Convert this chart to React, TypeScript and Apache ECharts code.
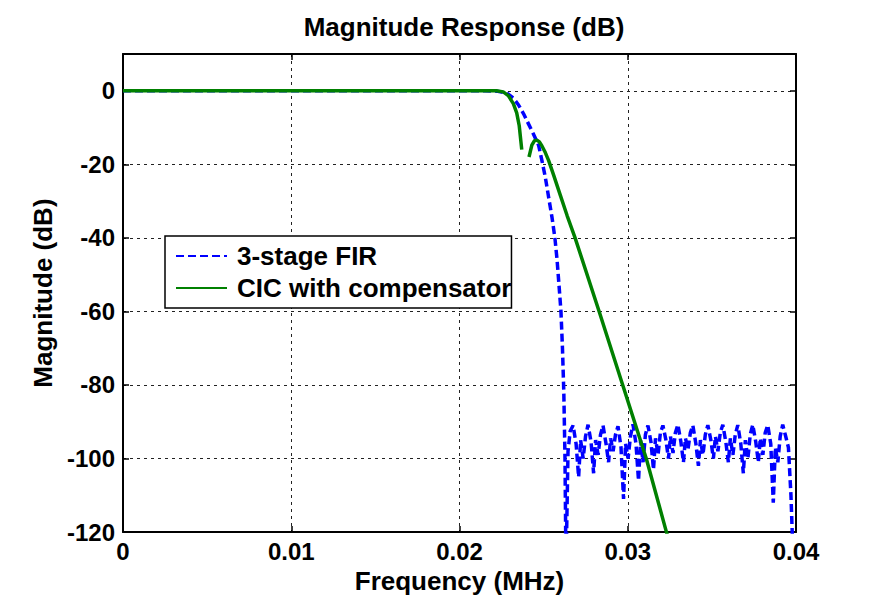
import React, { useEffect, useRef } from "react";
import * as echarts from "echarts";

// Frequency axis (MHz) and magnitude axis (dB)
const xTicks = [0, 0.01, 0.02, 0.03, 0.04];
const yTicks = [-120, -100, -80, -60, -40, -20, 0];

// 3-stage FIR response: passband, transition, then stopband lobes
const firFreq = [
  0, 0.0215, 0.0222, 0.0228, 0.0232, 0.0235, 0.0238, 0.0241, 0.0244, 0.0247,
  0.0249, 0.0251, 0.0253, 0.0255, 0.02567, 0.0258, 0.0259, 0.02603, 0.02612, 0.0262,
  0.02627, 0.02633, 0.02645, 0.02658,
  0.02675, 0.02693, 0.02708, 0.0272, 0.02735, 0.02749,
  0.02764, 0.02782, 0.02797, 0.02809, 0.02824, 0.02838,
  0.02853, 0.02871, 0.02886, 0.02898, 0.02913, 0.02927,
  0.02942, 0.0296, 0.02975, 0.02987, 0.03002, 0.03016,
  0.03031, 0.03049, 0.03064, 0.03076, 0.03091, 0.03105,
  0.0312, 0.03138, 0.03153, 0.03165, 0.0318, 0.03194,
  0.03209, 0.03227, 0.03242, 0.03254, 0.03269, 0.03283,
  0.03298, 0.03316, 0.03331, 0.03343, 0.03358, 0.03372,
  0.03387, 0.03405, 0.0342, 0.03432, 0.03447, 0.03461,
  0.03476, 0.03494, 0.03509, 0.03521, 0.03536, 0.0355,
  0.03565, 0.03583, 0.03598, 0.0361, 0.03625, 0.03639,
  0.03654, 0.03672, 0.03687, 0.03699, 0.03714, 0.03728,
  0.03743, 0.03761, 0.03776, 0.03788, 0.03803, 0.03817,
  0.03832, 0.0385, 0.03865, 0.03877, 0.03892, 0.03906,
  0.03921, 0.03939, 0.03955, 0.0397, 0.03985, 0.04,
];
const firMag = [
  0, 0, -0.1, -0.6, -2, -3.8, -6.2, -9, -11.8, -14.8,
  -19, -23.5, -29, -34.5, -40, -46, -52, -60, -70, -82,
  -100, -130, -98, -92.5,
  -91, -96, -105, -95, -100, -94,
  -90.8, -95.5, -104, -95, -99, -93.5,
  -91, -96, -101, -94.5, -98, -93.5,
  -91.2, -97, -111, -96, -100, -94,
  -90.7, -96, -106, -95, -101, -93.5,
  -91, -95.5, -103, -94.5, -99, -93,
  -91, -95, -100, -94, -98.5, -93,
  -90.8, -95.5, -101, -94.5, -97.5, -93,
  -91, -96, -102, -95, -99, -93.5,
  -90.9, -95, -100, -94, -98, -93,
  -90.8, -95.5, -101, -94.5, -99, -93.5,
  -90.9, -96, -104, -95, -100, -93.5,
  -90.8, -95.5, -101, -94.5, -99, -93,
  -90.9, -96, -112, -97, -101, -94,
  -90.8, -94, -97, -110, -130, -128,
];

// CIC with compensator response (null = notch, the line breaks there)
const cicFreq = [
  0, 0.0222, 0.0226, 0.0229, 0.0232, 0.0234, 0.02355, 0.0237, 0.0239, 0.02413,
  0.0243, 0.02445, 0.0246, 0.02475, 0.0249, 0.0251, 0.0253, 0.0256, 0.026, 0.0264,
  0.02687, 0.0283, 0.0297, 0.0311, 0.0323, 0.0327,
];
const cicMag: (number | null)[] = [
  0, 0, -0.3, -1.3, -3.5, -6, -9.5, -16, null, -18,
  -14.8, -13.6, -13.4, -13.9, -15, -16.8, -19, -23, -28.5, -34,
  -40, -60, -80, -100, -120, -126,
];

const FONT = "'Liberation Sans', Arial, Helvetica, sans-serif";
const labelStyle = { fontFamily: FONT, fontWeight: "bold" as const, fontSize: 24, color: "#000" };
const bigStyle = { ...labelStyle, fontSize: 26 };

export default function App() {
  const ref = useRef<HTMLDivElement>(null);

  useEffect(() => {
    document.body.style.margin = "0";
    const chart = echarts.init(ref.current!, null, { renderer: "svg" });

    const firData = firFreq.map((f, i) => [f, firMag[i]]);
    const cicData = cicFreq.map((f, i) => [f, cicMag[i] === null ? "-" : cicMag[i]]);

    const gridLine = { show: true, lineStyle: { color: "#222", width: 1, type: [3, 4] } };
    const frame = { show: true, onZero: false, lineStyle: { color: "#000", width: 2 } };
    const tickIn = { show: true, inside: true, length: 6, lineStyle: { color: "#000", width: 1.5 } };

    chart.setOption({
      animation: false,
      backgroundColor: "#fff",
      grid: { left: 123, right: 87, top: 54, bottom: 62, containLabel: false },
      graphic: [
        {
          type: "text",
          x: 464,
          y: 27,
          style: {
            text: "Magnitude Response (dB)",
            font: `bold 26px ${FONT}`,
            fill: "#000",
            textAlign: "center",
            textVerticalAlign: "middle",
          },
        },
      ],
      legend: {
        left: 165,
        top: 236,
        orient: "vertical",
        backgroundColor: "#fff",
        borderColor: "#000",
        borderWidth: 1.5,
        borderRadius: 0,
        padding: [7, 0, 7, 10],
        itemWidth: 51,
        itemHeight: 14,
        itemGap: 6,
        itemStyle: { opacity: 0 },
        textStyle: { ...bigStyle, padding: [0, 0, 0, 5] },
        data: ["3-stage FIR", "CIC with compensator"],
      },
      xAxis: [
        {
          type: "value",
          min: xTicks[0],
          max: xTicks[xTicks.length - 1],
          interval: 0.01,
          name: "Frequency (MHz)",
          nameLocation: "middle",
          nameGap: 31,
          nameTextStyle: bigStyle,
          axisLine: frame,
          axisTick: tickIn,
          splitLine: gridLine,
          axisLabel: {
            ...labelStyle,
            margin: 7,
            formatter: (v: number) => String(+v.toFixed(2)),
          },
        },
        {
          type: "value",
          position: "top",
          min: xTicks[0],
          max: xTicks[xTicks.length - 1],
          interval: 0.01,
          axisLine: frame,
          axisTick: tickIn,
          splitLine: { show: false },
          axisLabel: { show: false },
        },
      ],
      yAxis: [
        {
          type: "value",
          min: yTicks[0],
          max: 10,
          interval: 20,
          name: "Magnitude (dB)",
          nameLocation: "middle",
          nameGap: 62,
          nameTextStyle: bigStyle,
          axisLine: frame,
          axisTick: tickIn,
          splitLine: gridLine,
          axisLabel: { ...labelStyle, margin: 8, showMaxLabel: false },
        },
        {
          type: "value",
          position: "right",
          min: yTicks[0],
          max: 10,
          interval: 20,
          axisLine: frame,
          axisTick: tickIn,
          splitLine: { show: false },
          axisLabel: { show: false },
        },
      ],
      series: [
        {
          name: "3-stage FIR",
          type: "line",
          data: firData,
          symbol: "none",
          showSymbol: false,
          clip: true,
          lineStyle: { color: "#0000ff", width: 3.5, type: [8, 4] },
          itemStyle: { color: "#0000ff" },
          z: 2,
        },
        {
          name: "CIC with compensator",
          type: "line",
          data: cicData,
          symbol: "none",
          showSymbol: false,
          connectNulls: false,
          clip: true,
          lineStyle: { color: "#008000", width: 3.5 },
          itemStyle: { color: "#008000" },
          z: 3,
        },
      ],
    });

    return () => chart.dispose();
  }, []);

  return <div ref={ref} style={{ width: 883, height: 599 }} />;
}
